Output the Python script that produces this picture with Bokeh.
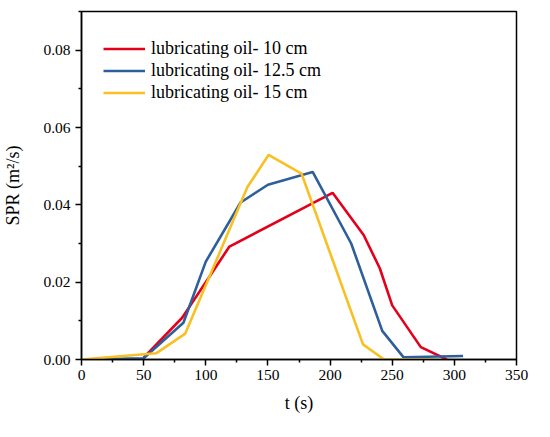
from bokeh.plotting import figure
from bokeh.models import Range1d, FixedTicker, Legend, LegendItem
from bokeh.embed import file_html
from bokeh.resources import INLINE

# Data
t_10 = [50, 81, 119, 202, 227, 240, 250, 273, 294]
spr_10 = [0.0005, 0.0108, 0.0292, 0.0431, 0.0322, 0.0236, 0.0140, 0.0032, 0.0]

t_125 = [0, 50, 82, 100, 128, 150, 186, 217, 242, 259, 307]
spr_125 = [0.0, 0.0003, 0.0095, 0.0253, 0.0406, 0.0452, 0.0485, 0.0300, 0.0074, 0.0006, 0.0009]

t_15 = [0, 60, 83.5, 133.5, 150.5, 177, 226.5, 243.5, 284]
spr_15 = [0.0, 0.0016, 0.0067, 0.0446, 0.0529, 0.0481, 0.0039, 0.0, 0.0]

labels = ["lubricating oil- 10 cm", "lubricating oil- 12.5 cm", "lubricating oil- 15 cm"]
colors = ["#e3001b", "#2e5f9a", "#f8c022"]

x_ticks = [0, 50, 100, 150, 200, 250, 300, 350]
x_minor = [25, 75, 125, 175, 225, 275, 325]
y_ticks = [0.0, 0.02, 0.04, 0.06, 0.08]
y_minor = [0.01, 0.03, 0.05, 0.07, 0.09]

FONT = "Liberation Serif"

p = figure(width=534, height=421, output_backend="svg", toolbar_location=None,
           x_range=Range1d(0, 350), y_range=Range1d(0, 0.09),
           min_border_left=80, min_border_right=18, min_border_top=11, min_border_bottom=62)
p.grid.visible = False
p.outline_line_color = "black"
p.outline_line_width = 1.5
p.background_fill_color = "white"
p.border_fill_color = "white"

r1 = p.line(t_10, spr_10, line_color=colors[0], line_width=2.6)
r2 = p.line(t_125, spr_125, line_color=colors[1], line_width=2.6)
r3 = p.line(t_15, spr_15, line_color=colors[2], line_width=2.6)

p.xaxis.ticker = FixedTicker(ticks=x_ticks, minor_ticks=x_minor)
p.yaxis.ticker = FixedTicker(ticks=y_ticks, minor_ticks=y_minor)
p.yaxis.major_label_overrides = {v: f"{v:.2f}" for v in y_ticks}

for ax in (p.xaxis, p.yaxis):
    ax.axis_line_width = 1.5
    ax.major_tick_line_width = 1.5
    ax.minor_tick_line_width = 1.5
    ax.major_tick_out = 6
    ax.major_tick_in = 0
    ax.minor_tick_out = 3
    ax.minor_tick_in = 0
    ax.major_label_text_font = FONT
    ax.major_label_text_font_size = "15.5px"
    ax.major_label_text_color = "black"
    ax.axis_label_text_font = FONT
    ax.axis_label_text_font_size = "18px"
    ax.axis_label_text_font_style = "normal"
    ax.axis_label_text_color = "black"

p.xaxis.axis_label = "t (s)"
p.yaxis.axis_label = "SPR (m²/s)"
p.xaxis.major_label_standoff = 4
p.xaxis.axis_label_standoff = 10
p.yaxis.major_label_standoff = 5
p.yaxis.axis_label_standoff = 17

legend = Legend(items=[LegendItem(label=labels[0], renderers=[r1]),
                       LegendItem(label=labels[1], renderers=[r2]),
                       LegendItem(label=labels[2], renderers=[r3])],
                location=(22, 256), orientation="vertical")
legend.border_line_color = None
legend.background_fill_alpha = 0
legend.padding = 0
legend.margin = 0
legend.spacing = 1
legend.glyph_width = 42
legend.glyph_height = 21
legend.label_height = 21
legend.label_standoff = 6
legend.label_text_font = FONT
legend.label_text_font_size = "18px"
legend.label_text_color = "black"
p.add_layout(legend, "center")

open("out.html", "w").write(file_html(p, INLINE))
